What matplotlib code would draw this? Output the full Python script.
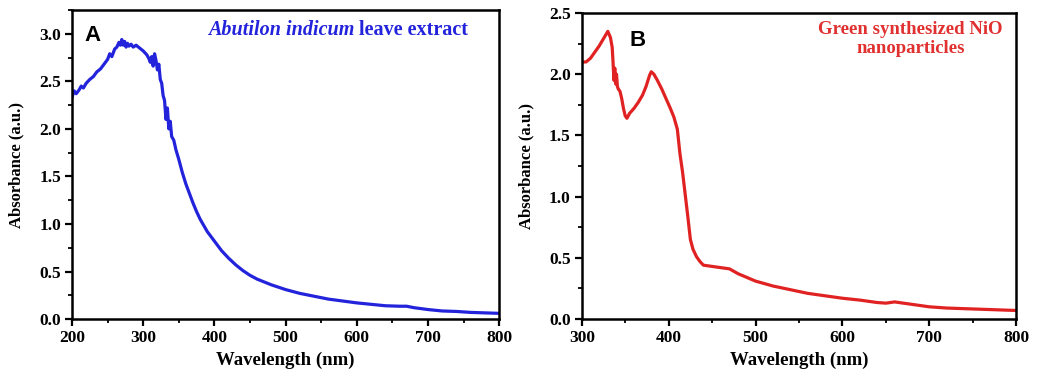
import matplotlib
matplotlib.use("Agg")
import matplotlib.pyplot as plt
from matplotlib.ticker import MultipleLocator, FormatStrFormatter

# panel A: Abutilon indicum leave extract
wl_a = [200, 203, 206, 210, 213, 216, 220, 225, 230, 235, 240, 245, 250, 253, 256,
        260, 263, 266, 268, 270, 272, 274, 276, 278, 280, 283, 286, 290, 295, 300,
        305, 308, 310, 312, 314, 316, 318, 320, 322, 324, 326, 328, 330, 332, 334,
        336, 338, 340, 343, 346, 350, 355, 360, 365, 370, 375, 380, 390, 400, 410,
        420, 430, 440, 450, 460, 470, 480, 500, 520, 540, 560, 580, 600, 620, 640,
        660, 670, 680, 700, 720, 740, 760, 780, 800]
abs_a = [2.33, 2.40, 2.37, 2.41, 2.45, 2.43, 2.48, 2.52, 2.55, 2.60, 2.63, 2.68, 2.73, 2.79, 2.76,
         2.84, 2.86, 2.91, 2.88, 2.94, 2.88, 2.92, 2.86, 2.90, 2.87, 2.89, 2.86, 2.88, 2.85, 2.82,
         2.78, 2.74, 2.70, 2.76, 2.66, 2.79, 2.72, 2.62, 2.68, 2.52, 2.48, 2.35, 2.30, 2.10, 2.22,
         2.00, 2.08, 1.92, 1.88, 1.78, 1.68, 1.54, 1.42, 1.32, 1.22, 1.13, 1.05, 0.92, 0.82, 0.72,
         0.64, 0.57, 0.51, 0.46, 0.42, 0.39, 0.36, 0.31, 0.27, 0.24, 0.21, 0.19, 0.17, 0.155, 0.14,
         0.135, 0.135, 0.12, 0.10, 0.085, 0.08, 0.07, 0.065, 0.06]

# panel B: green synthesized NiO nanoparticles
wl_b = [300, 305, 310, 315, 320, 325, 330, 333, 335, 336, 337, 338, 339, 340, 341,
        342, 344, 346, 348, 350, 352, 355, 360, 365, 370, 374, 378, 380, 383, 387,
        392, 397, 402, 406, 410, 413, 416, 419, 422, 425, 428, 432, 436, 440, 450,
        460, 470, 480, 490, 500, 520, 540, 560, 580, 600, 620, 640, 650, 660, 670,
        680, 700, 720, 740, 760, 780, 800]
abs_b = [2.10, 2.10, 2.13, 2.18, 2.23, 2.29, 2.35, 2.30, 2.22, 2.10, 1.95, 2.05, 1.92, 2.00, 1.90,
         1.88, 1.86, 1.80, 1.72, 1.66, 1.64, 1.68, 1.72, 1.77, 1.83, 1.90, 1.99, 2.02, 2.00, 1.95,
         1.88, 1.80, 1.72, 1.65, 1.55, 1.35, 1.20, 1.02, 0.84, 0.65, 0.57, 0.51, 0.47, 0.44, 0.43,
         0.42, 0.41, 0.37, 0.34, 0.31, 0.27, 0.24, 0.21, 0.19, 0.17, 0.155, 0.135, 0.13, 0.14, 0.13,
         0.12, 0.10, 0.09, 0.085, 0.08, 0.075, 0.07]

plt.rcParams["font.family"] = "Liberation Serif"
plt.rcParams["font.weight"] = "bold"

fig = plt.figure(figsize=(10.37, 3.71), dpi=100)
ax_a = fig.add_axes([0.0694, 0.140, 0.412, 0.833])
ax_b = fig.add_axes([0.561, 0.140, 0.419, 0.825])


def style(ax, xlim, ylim, ylab_x):
    ax.set_xlim(*xlim)
    ax.set_ylim(*ylim)
    for s in ax.spines.values():
        s.set_linewidth(1.8)
    ax.xaxis.set_major_locator(MultipleLocator(100))
    ax.xaxis.set_minor_locator(MultipleLocator(50))
    ax.yaxis.set_major_locator(MultipleLocator(0.5))
    ax.yaxis.set_minor_locator(MultipleLocator(0.25))
    ax.tick_params(which="major", direction="out", length=5, width=1.6, labelsize=12.5, pad=3)
    ax.tick_params(which="minor", direction="out", length=3, width=1.3)
    ax.yaxis.set_major_formatter(FormatStrFormatter("%.1f"))
    ax.set_xlabel("Wavelength (nm)", fontsize=13.5, fontweight="bold")
    ax.set_ylabel("Absorbance (a.u.)", fontsize=12, fontweight="bold")
    ax.xaxis.set_label_coords(0.5, -0.107)
    ax.yaxis.set_label_coords(ylab_x, 0.5)


ax_a.plot(wl_a, abs_a, color="#2323dc", lw=2.3)
style(ax_a, (200, 800), (0, 3.25), -0.112)
ax_a.text(0.03, 0.95, "A", transform=ax_a.transAxes, family="Liberation Sans",
          fontsize=16, fontweight="bold", va="top", ha="left")
t1 = ax_a.text(0.318, 0.935, "Abutilon indicum", transform=ax_a.transAxes,
               ha="left", va="center", color="#2323dc", fontsize=14.5,
               fontweight="bold", style="italic")
ax_a.annotate(" leave extract", xy=(1, 0.5), xycoords=t1, ha="left", va="center",
              color="#2323dc", fontsize=14.5, fontweight="bold")

ax_b.plot(wl_b, abs_b, color="#e02222", lw=2.3)
style(ax_b, (300, 800), (0, 2.5), -0.110)
ax_b.text(0.11, 0.945, "B", transform=ax_b.transAxes, family="Liberation Sans",
          fontsize=16, fontweight="bold", va="top", ha="left")
ax_b.text(0.756, 0.915, "Green synthesized NiO\nnanoparticles", transform=ax_b.transAxes,
          ha="center", va="center", color="#e03030", fontsize=13.5, fontweight="bold",
          linespacing=1.2)

fig.savefig("out.png", dpi=100)
